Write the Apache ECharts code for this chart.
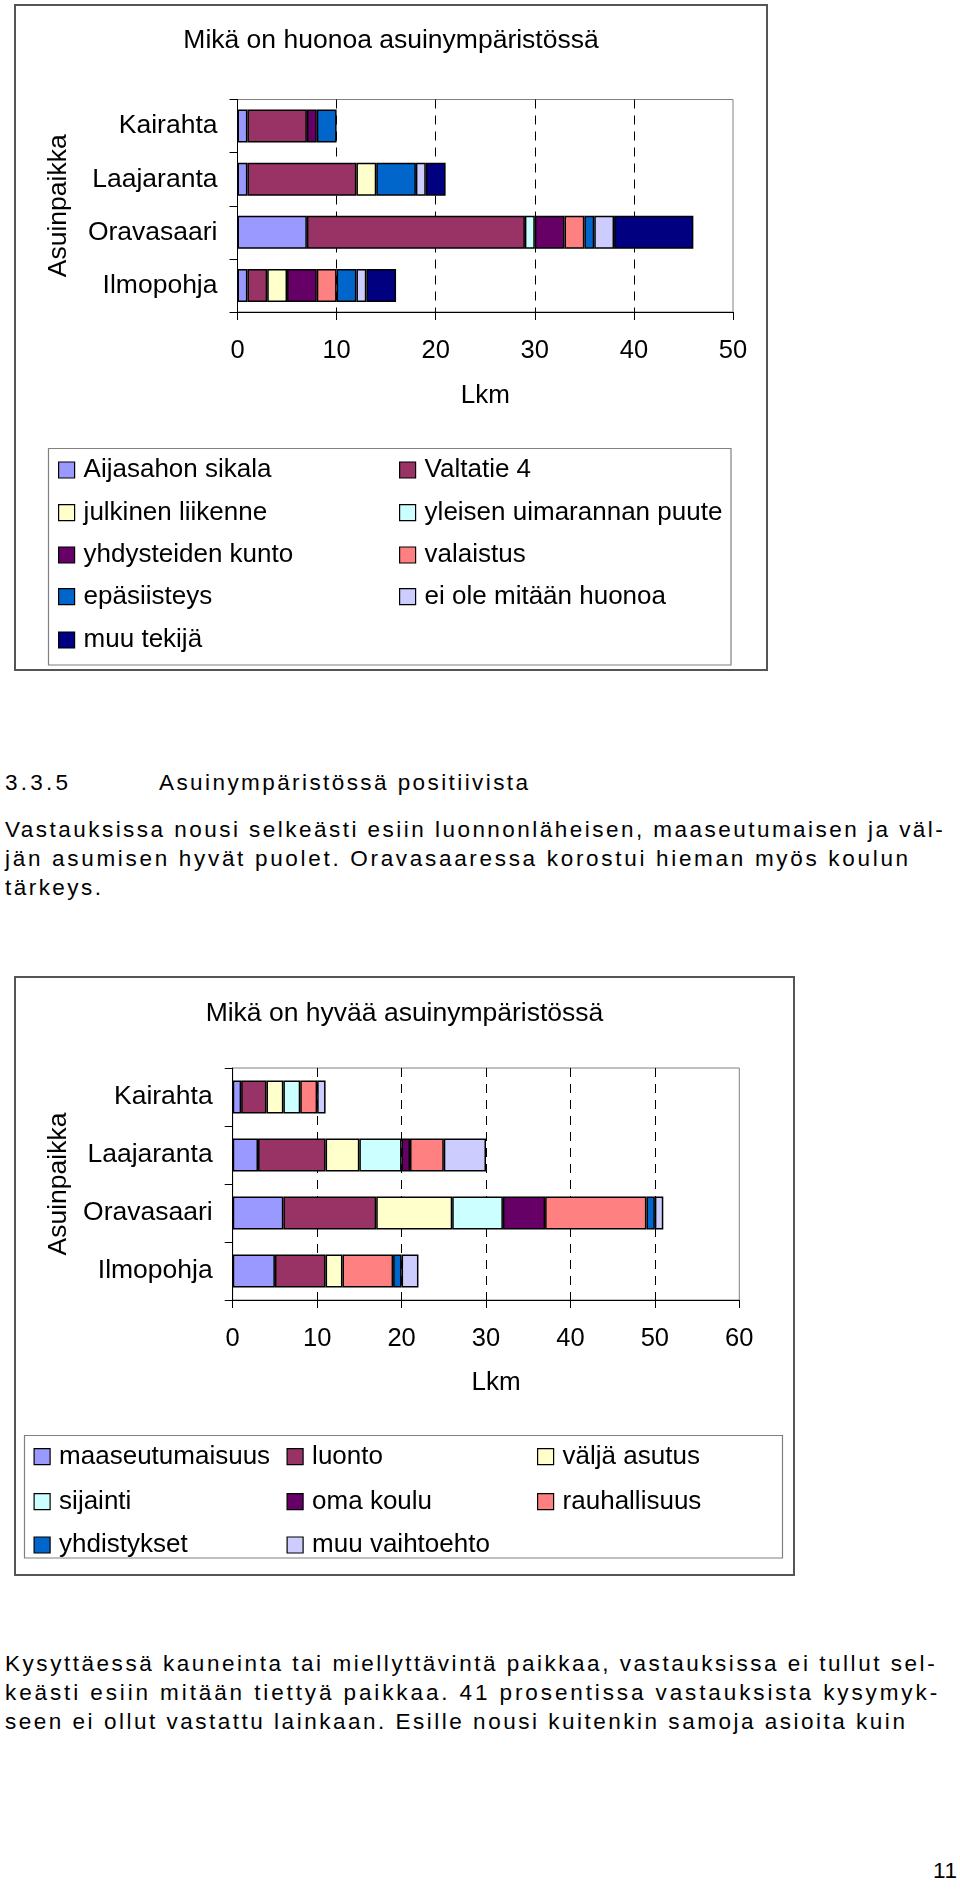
<!DOCTYPE html>
<html><head><meta charset="utf-8">
<script src="https://cdn.jsdelivr.net/npm/echarts/dist/echarts.min.js"></script>
<style>
html,body{margin:0;padding:0;background:#fff;}
body{width:960px;height:1889px;position:relative;overflow:hidden;font-family:'Liberation Sans',Arial,sans-serif;color:#000;}
.c{position:absolute;}
.t{position:absolute;font-size:22.5px;line-height:22.5px;white-space:nowrap;}
</style></head><body>
<div id="c1" class="c" style="left:14px;top:4px;width:754px;height:667px"></div>
<div id="c2" class="c" style="left:14px;top:976px;width:781px;height:600px"></div>
<div id="txt"></div>
<script>
// ---------- DATA ----------
const categories = ['Kairahta', 'Laajaranta', 'Oravasaari', 'Ilmopohja'];

// Chart 1: Mikä on huonoa asuinympäristössä
const huonoNames = ['Aijasahon sikala', 'Valtatie 4', 'julkinen liikenne', 'yleisen uimarannan puute',
  'yhdysteiden kunto', 'valaistus', 'epäsiisteys', 'ei ole mitään huonoa', 'muu tekijä'];
const aijasahonSikala = [1, 1, 7, 1];
const valtatie4 = [6, 11, 22, 2];
const julkinenLiikenne = [0, 2, 0, 2];
const uimarannanPuute = [0, 0, 1, 0];
const yhdysteidenKunto = [1, 0, 3, 3];
const valaistus = [0, 0, 2, 2];
const epasiisteys = [2, 4, 1, 2];
const eiOleHuonoa = [0, 1, 2, 1];
const muuTekija = [0, 2, 8, 3];

// Chart 2: Mikä on hyvää asuinympäristössä
const hyvaNames = ['maaseutumaisuus', 'luonto', 'väljä asutus', 'sijainti', 'oma koulu',
  'rauhallisuus', 'yhdistykset', 'muu vaihtoehto'];
const maaseutumaisuus = [1, 3, 6, 5];
const luonto = [3, 8, 11, 6];
const valjaAsutus = [2, 4, 9, 2];
const sijainti = [2, 5, 6, 0];
const omaKoulu = [0, 1, 5, 0];
const rauhallisuus = [2, 4, 12, 6];
const yhdistykset = [0, 0, 1, 1];
const muuVaihtoehto = [1, 5, 1, 2];

const ticks1 = [0, 10, 20, 30, 40, 50];
const ticks2 = [0, 10, 20, 30, 40, 50, 60];

// ---------- STYLE ----------
const FONT = "'Liberation Sans', Arial, sans-serif";
const colors1 = ['#9999FF', '#993366', '#FFFFCC', '#CCFFFF', '#660066', '#FF8080', '#0066CC', '#CCCCFF', '#000080'];
const colors2 = ['#9999FF', '#993366', '#FFFFCC', '#CCFFFF', '#660066', '#FF8080', '#0066CC', '#CCCCFF'];

function makeOption(cfg) {
  const series = cfg.names.map((n, i) => ({
    name: n, type: 'bar', stack: 'total',
    data: cfg.values[i].map(v => v === 0 ? '-' : v),
    barWidth: cfg.barWidth,
    itemStyle: { color: cfg.colors[i], borderColor: '#000', borderWidth: 1.5 },
    emphasis: { disabled: true },
    animation: false
  }));
  const legends = cfg.names.map((n, i) => ({
    data: [n], selectedMode: false, padding: 0,
    left: cfg.legCols[i % cfg.legCols.length],
    top: cfg.legRows[Math.floor(i / cfg.legCols.length)] - 13,
    icon: 'rect', itemWidth: 16, itemHeight: 16,
    itemStyle: { borderColor: '#000', borderWidth: 1.2 },
    textStyle: { fontSize: 26, fontFamily: FONT, color: '#000', padding: [0, 0, 0, 4] }
  }));
  const W = cfg.W, H = cfg.H;
  return {
    animation: false,
    textStyle: { fontFamily: FONT },
    title: { text: cfg.title, left: 'center', top: cfg.titleTop,
      textStyle: { fontSize: 26.5, fontWeight: 'normal', color: '#000', fontFamily: FONT } },
    grid: Object.assign({ show: true, borderColor: '#808080', borderWidth: 1, containLabel: false }, cfg.grid),
    xAxis: {
      type: 'value', min: cfg.ticks[0], max: cfg.ticks[cfg.ticks.length - 1], interval: cfg.ticks[1] - cfg.ticks[0],
      axisLine: { show: true, lineStyle: { color: '#000', width: 1 } },
      axisTick: { show: true, length: 8, lineStyle: { color: '#000' } },
      axisLabel: { fontSize: 25.5, color: '#000', margin: 26, fontFamily: FONT },
      splitLine: { show: true, showMinLine: false, showMaxLine: false, lineStyle: { color: '#000', type: [9, 7], width: 1 } },
      name: 'Lkm', nameLocation: 'middle', nameGap: cfg.lkmGap,
      nameTextStyle: { fontSize: 26, color: '#000', fontFamily: FONT, padding: cfg.lkmPad }
    },
    yAxis: {
      type: 'category', inverse: true, data: categories,
      axisLine: { show: true, lineStyle: { color: '#000', width: 1 } },
      axisTick: { show: true, length: 8, lineStyle: { color: '#000' } },
      axisLabel: { fontSize: 26.5, color: '#000', margin: 20, fontFamily: FONT },
      name: 'Asuinpaikka', nameLocation: 'middle', nameGap: cfg.yNameGap, nameRotate: 90,
      nameTextStyle: { fontSize: 26.5, color: '#000', fontFamily: FONT }
    },
    legend: legends,
    graphic: [
      { type: 'rect', silent: true, shape: { x: 1, y: 1, width: W - 2, height: H - 2 },
        style: { fill: null, stroke: '#555', lineWidth: 2 } },
      { type: 'rect', silent: true, shape: cfg.legBox,
        style: { fill: null, stroke: '#808080', lineWidth: 1.2 } }
    ],
    series: series
  };
}

const c1 = echarts.init(document.getElementById('c1'), null, { renderer: 'canvas' });
c1.setOption(makeOption({
  W: 754, H: 667,
  title: 'Mikä on huonoa asuinympäristössä', titleTop: 18,
  names: huonoNames,
  values: [aijasahonSikala, valtatie4, julkinenLiikenne, uimarannanPuute, yhdysteidenKunto, valaistus, epasiisteys, eiOleHuonoa, muuTekija],
  colors: colors1, barWidth: 33, ticks: ticks1,
  grid: { left: 223.5, top: 95.5, width: 495.5, height: 212.5 },
  lkmGap: 71, lkmPad: 0, yNameGap: 165,
  legCols: [44, 385], legRows: [466, 508.7, 551, 592.7, 636],
  legBox: { x: 34.5, y: 444.5, width: 682.5, height: 216.5 }
}));

const c2 = echarts.init(document.getElementById('c2'), null, { renderer: 'canvas' });
c2.setOption(makeOption({
  W: 781, H: 600,
  title: 'Mikä on hyvää asuinympäristössä', titleTop: 19,
  names: hyvaNames,
  values: [maaseutumaisuus, luonto, valjaAsutus, sijainti, omaKoulu, rauhallisuus, yhdistykset, muuVaihtoehto],
  colors: colors2, barWidth: 33, ticks: ticks2,
  grid: { left: 218.7, top: 92, width: 506.6, height: 232 },
  lkmGap: 70, lkmPad: [0, 0, 0, 20], yNameGap: 159,
  legCols: [19.5, 272.5, 523], legRows: [480.7, 525.7, 569],
  legBox: { x: 10.5, y: 459.5, width: 758, height: 122.5 }
}));

// ---------- PAGE TEXT ----------
const pageLines = [
  { t: '3.3.5', x: 5, y: 784, w: 63 },
  { t: 'Asuinympäristössä positiivista', x: 159, y: 784, w: 369 },
  { t: 'Vastauksissa nousi selkeästi esiin luonnonläheisen, maaseutumaisen ja väl-', x: 5, y: 831, w: 938 },
  { t: 'jän asumisen hyvät puolet. Oravasaaressa korostui hieman myös koulun', x: 5, y: 860, w: 903 },
  { t: 'tärkeys.', x: 5, y: 889, w: 96 },
  { t: 'Kysyttäessä kauneinta tai miellyttävintä paikkaa, vastauksissa ei tullut sel-', x: 5, y: 1665, w: 930 },
  { t: 'keästi esiin mitään tiettyä paikkaa. 41 prosentissa vastauksista kysymyk-', x: 5, y: 1694, w: 932 },
  { t: 'seen ei ollut vastattu lainkaan. Esille nousi kuitenkin samoja asioita kuin', x: 5, y: 1723, w: 900 },
  { t: '11', x: 933, y: 1872, w: 24 }
];
const holder = document.getElementById('txt');
pageLines.forEach(l => {
  const d = document.createElement('div');
  d.className = 't';
  d.textContent = l.t;
  d.style.left = l.x + 'px';
  d.style.top = (l.y - 12) + 'px';
  holder.appendChild(d);
  const nat = d.getBoundingClientRect().width;
  const ls = (l.w - nat) / Math.max(1, l.t.length - 1);
  d.style.letterSpacing = ls.toFixed(2) + 'px';
});
</script>
</body></html>
